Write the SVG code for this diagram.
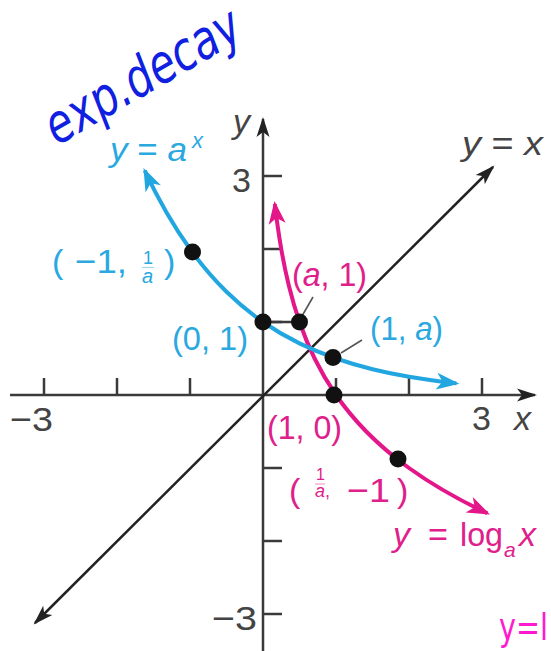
<svg xmlns="http://www.w3.org/2000/svg" width="551" height="651" viewBox="0 0 551 651">
<style>
.axis{stroke:#3a3a3a;stroke-width:2.5;fill:none}
.tick{stroke:#3a3a3a;stroke-width:2.5}
.diag{stroke:#222;stroke-width:2.5;fill:none}
.blue{stroke:#22a6e0;stroke-width:4;fill:none}
.mag{stroke:#e3168a;stroke-width:4;fill:none}
.lead{stroke:#555;stroke-width:1.6}
.dot{fill:#111}
.t{font-family:"Liberation Sans",Arial,sans-serif;font-size:34px}
.gray{fill:#444}
.bt{fill:#2aa8e0}
.mt{fill:#e0208a}
.i{font-style:italic}
</style>
<defs>
<marker id="ak" markerUnits="userSpaceOnUse" viewBox="-20 -10 24 20" refX="0" refY="0" markerWidth="24" markerHeight="20" orient="auto-start-reverse">
<path d="M2,0 L-18,-6.5 L-13,0 L-18,6.5 Z" fill="#222"/>
</marker>
<marker id="ab" markerUnits="userSpaceOnUse" viewBox="-24 -12 28 24" refX="0" refY="0" markerWidth="28" markerHeight="24" orient="auto-start-reverse">
<path d="M3,0 L-20,-8.5 L-14,0 L-20,8.5 Z" fill="#22a6e0"/>
</marker>
<marker id="am" markerUnits="userSpaceOnUse" viewBox="-24 -12 28 24" refX="0" refY="0" markerWidth="28" markerHeight="24" orient="auto-start-reverse">
<path d="M3,0 L-20,-8.5 L-14,0 L-20,8.5 Z" fill="#e3168a"/>
</marker>
</defs>
<rect width="551" height="651" fill="#fff"/>

<g id="axes">
<line class="axis" x1="10" y1="395" x2="535" y2="395" marker-end="url(#ak)"/>
<line class="axis" x1="263" y1="651" x2="263" y2="119" marker-end="url(#ak)"/>
<g id="xticks">
<line class="tick" x1="44" y1="378" x2="44" y2="395"/>
<line class="tick" x1="117" y1="378" x2="117" y2="395"/>
<line class="tick" x1="190" y1="378" x2="190" y2="395"/>
<line class="tick" x1="336" y1="378" x2="336" y2="395"/>
<line class="tick" x1="409" y1="378" x2="409" y2="395"/>
<line class="tick" x1="482" y1="378" x2="482" y2="395"/>
</g>
<g id="yticks">
<line class="tick" x1="263" y1="176" x2="282" y2="176"/>
<line class="tick" x1="263" y1="249" x2="282" y2="249"/>
<line class="tick" x1="263" y1="322" x2="282" y2="322"/>
<line class="tick" x1="263" y1="468" x2="282" y2="468"/>
<line class="tick" x1="263" y1="541" x2="282" y2="541"/>
<line class="tick" x1="263" y1="614" x2="282" y2="614"/>
</g>
<text class="t gray i" x="233" y="133">y</text>
<text class="t gray" x="232" y="192">3</text>
<text class="t gray" x="10" y="431" textLength="43" lengthAdjust="spacingAndGlyphs">−3</text>
<text class="t gray" x="472" y="430">3</text>
<text class="t gray i" x="514" y="430">x</text>
<text class="t gray" x="212" y="630" textLength="45" lengthAdjust="spacingAndGlyphs">−3</text>
</g>

<g id="connectors">
<line class="diag" x1="35" y1="623" x2="493" y2="167" marker-start="url(#ak)" marker-end="url(#ak)"/>
<path id="log-curve" class="mag" marker-start="url(#am)" marker-end="url(#am)" d="M487.33,513.26 C455.19,498.17 429.92,483.09 409,468 C392.13,455.83 378.15,443.67 366.22,431.5 C354.29,419.33 344.43,407.17 336,395 C327.57,382.83 320.58,370.67 314.62,358.5 C308.66,346.33 303.72,334.17 299.5,322 C295.28,309.83 291.79,297.67 288.81,285.5 C285.83,273.33 283.36,261.17 281.25,249 C278.51,233.18 276.38,217.37 274.8,204"/>
<path id="exp-curve" class="blue" marker-start="url(#ab)" marker-end="url(#ab)" d="M144.74,170.67 C159.83,202.81 174.91,228.08 190,249 C202.17,265.87 214.33,279.85 226.5,291.78 C238.67,303.71 250.83,313.57 263,322 C275.17,330.43 287.33,337.42 299.5,343.38 C311.67,349.34 323.83,354.28 336,358.5 C348.17,362.72 360.33,366.21 372.5,369.19 C384.67,372.17 396.83,374.64 409,376.75 C424.82,379.49 440.63,381.62 456.45,383.37"/>
<line class="tick" x1="263" y1="322" x2="299" y2="322"/>
<line class="lead" x1="302" y1="316" x2="313" y2="297"/>
<line class="lead" x1="341" y1="353" x2="362" y2="340"/>
</g>

<g id="label-yx">
<text class="t gray" x="462" y="155" textLength="81" lengthAdjust="spacingAndGlyphs"><tspan class="i">y</tspan> = <tspan class="i">x</tspan></text>
</g>

<g id="label-exp">
<text class="t bt" x="110" y="161" textLength="77" lengthAdjust="spacingAndGlyphs"><tspan class="i">y</tspan> = <tspan class="i">a</tspan></text>
<text class="t bt i" x="192" y="148" style="font-size:22px">x</text>
</g>

<g id="label-log">
<text class="t mt i" x="393" y="546">y</text>
<text class="t mt" x="428" y="546" textLength="20" lengthAdjust="spacingAndGlyphs">=</text>
<text class="t mt" x="460" y="546" textLength="43" lengthAdjust="spacingAndGlyphs">log</text>
<text class="t mt i" x="504" y="557" style="font-size:21px">a</text>
<text class="t mt i" x="519" y="546">x</text>
</g>

<g id="pt-m1">
<circle class="dot" cx="192.5" cy="252" r="8.5"/>
<text class="t bt" x="52" y="273">(</text>
<text class="t bt" x="75" y="273" textLength="52" lengthAdjust="spacingAndGlyphs">−1,</text>
<text class="t bt" x="143" y="264" style="font-size:18px">1</text>
<line x1="142" y1="267.5" x2="154" y2="267.5" stroke="#9fd6f0" stroke-width="1.2"/>
<text class="t bt i" x="142" y="283" style="font-size:20px">a</text>
<text class="t bt" x="164" y="273">)</text>
</g>

<g id="pt-01">
<circle class="dot" cx="263" cy="322" r="8.5"/>
<text class="t bt" x="172" y="350" textLength="76" lengthAdjust="spacingAndGlyphs">(0, 1)</text>
</g>

<g id="pt-a1">
<circle class="dot" cx="299.5" cy="322" r="8.5"/>
<text class="t mt" x="292" y="286" textLength="75" lengthAdjust="spacingAndGlyphs">(<tspan class="i">a</tspan>, 1)</text>
</g>

<g id="pt-1a">
<circle class="dot" cx="333" cy="357.5" r="8.5"/>
<text class="t bt" x="370" y="340" textLength="73" lengthAdjust="spacingAndGlyphs">(1, <tspan class="i">a</tspan>)</text>
</g>

<g id="pt-10">
<circle class="dot" cx="334" cy="395" r="8.5"/>
<text class="t mt" x="267" y="439" textLength="75" lengthAdjust="spacingAndGlyphs">(1, 0)</text>
</g>

<g id="pt-inv">
<circle class="dot" cx="398" cy="459" r="8.5"/>
<text class="t mt" x="289" y="502">(</text>
<text class="t mt" x="316" y="480" style="font-size:16px">1</text>
<line x1="315" y1="484" x2="325" y2="484" stroke="#f0a0cc" stroke-width="1.2"/>
<text class="t mt" x="315" y="497" style="font-size:18px"><tspan class="i">a</tspan>,</text>
<text class="t mt" x="347" y="502" textLength="43" lengthAdjust="spacingAndGlyphs">−1</text>
<text class="t mt" x="397" y="502">)</text>
</g>

<g id="handwriting">
<text transform="translate(57,146) rotate(-30)" font-family="DejaVu Sans, sans-serif" font-style="italic" font-size="54" fill="#1020e0" textLength="218" lengthAdjust="spacingAndGlyphs">exp.decay</text>
<text x="499" y="640" font-family="DejaVu Sans, sans-serif" font-size="38" fill="#ff1ad0" textLength="49" lengthAdjust="spacingAndGlyphs">y=l</text>
</g>
</svg>
